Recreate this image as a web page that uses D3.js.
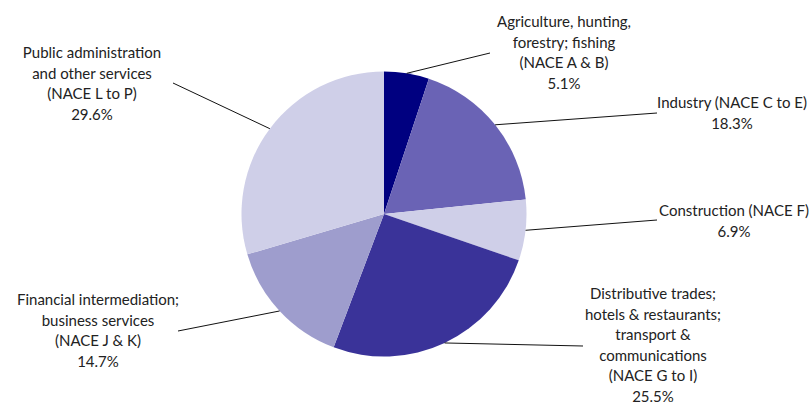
<!DOCTYPE html>
<html><head><meta charset="utf-8">
<script src="https://cdn.jsdelivr.net/npm/d3@7"></script>
<style>body{margin:0;background:#fff}svg{display:block}</style>
</head><body>
<svg id="c" width="811" height="405"></svg>
<script>
const categories = [
  ["Agriculture, hunting,", "forestry; fishing", "(NACE A & B)"],
  ["Industry (NACE C to E)"],
  ["Construction (NACE F)"],
  ["Distributive trades;", "hotels & restaurants;", "transport &", "communications", "(NACE G to I)"],
  ["Financial intermediation;", "business services", "(NACE J & K)"],
  ["Public administration", "and other services", "(NACE L to P)"]
];
const values = [5.1, 18.3, 6.9, 25.5, 14.7, 29.6];
const colors = ["#000080", "#6a63b5", "#cfcfe8", "#3a3399", "#9e9dcd", "#cfcfe8"];
// label layout: text centre x, first baseline y, leader end point
const labelLayout = [
  {x: 564, y: 27, ex: 490, ey: 53},
  {x: 732, y: 108, ex: 657, ey: 113},
  {x: 734, y: 216, ex: 657, ey: 220},
  {x: 653, y: 299, ex: 583, ey: 346},
  {x: 98, y: 305, ex: 178, ey: 331},
  {x: 92, y: 58, ex: 173, ey: 83}
];

const svg = d3.select("#c");
const cx = 384, cy = 214, r = 142.5;
const g = svg.append("g").attr("transform", `translate(${cx},${cy})`);
const pie = d3.pie().sort(null).value(d => d)(values);
const arc = d3.arc().innerRadius(0).outerRadius(r);
g.selectAll("path").data(pie).join("path")
  .attr("d", arc).attr("fill", (d, i) => colors[i]);

pie.forEach((d, i) => {
  const a = (d.startAngle + d.endAngle) / 2;
  const sx = cx + r * Math.sin(a), sy = cy - r * Math.cos(a);
  const L = labelLayout[i];
  svg.append("line").attr("x1", sx).attr("y1", sy).attr("x2", L.ex).attr("y2", L.ey)
    .attr("stroke", "#111").attr("stroke-width", 1);
  const lines = categories[i].concat([d3.format(".1f")(values[i]) + "%"]);
  const t = svg.append("text").attr("text-anchor", "middle")
    .attr("font-family", "Lato, 'Open Sans', sans-serif").attr("font-size", 15).attr("fill", "#222");
  lines.forEach((s, k) => t.append("tspan").attr("x", L.x).attr("y", L.y + k * 20.5).text(s));
});
</script>
</body></html>
